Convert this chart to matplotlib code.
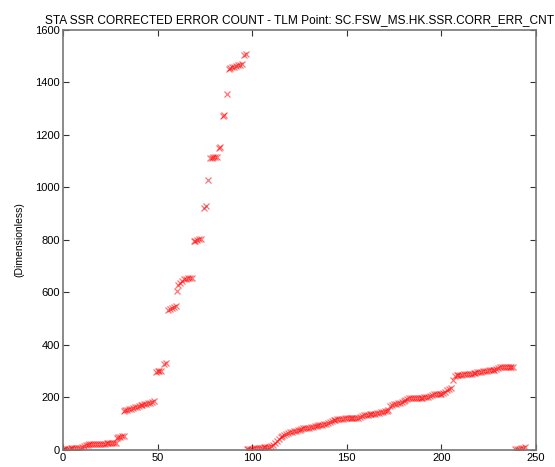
import matplotlib
matplotlib.use('Agg')
import matplotlib.pyplot as plt

plt.rcParams['font.family'] = ['Liberation Sans', 'DejaVu Sans']

# first ramp (x values in days, counts)
x_ramp1 = [0, 0.5, 1, 2, 3, 4, 5, 6, 7, 8, 9, 10, 11, 12, 13, 14, 15, 16, 17, 18,
           19, 20, 21, 22, 23, 24, 25, 26, 27, 28, 28.5, 29, 30, 31, 32,
           32.5, 33, 34, 35, 36, 37, 38, 39, 40, 41, 42, 43, 44, 45, 46, 47, 48,
           49, 50, 51, 52, 53.5, 54.5,
           55.5, 56.5, 57.5, 58.5, 59.5, 60.2, 61, 62, 63, 64, 65, 66, 67, 68,
           69, 70, 71, 72, 73, 74.5, 75.5, 76.5, 77.5, 78.5, 79.5, 80.5, 81.5,
           82.5, 83.2, 84.5, 85.3, 86.7, 87.5, 88.5, 89.5, 90.5, 91.5, 92.5,
           93.5, 94.5, 95.5, 96.5]
y_ramp1 = [3, 4, 4, 5, 5, 6, 6, 7, 7, 8, 8, 10, 14, 18, 20, 21, 21, 22, 22, 23,
           23, 24, 24, 24, 25, 25, 25, 25, 26, 26, 45, 48, 50, 52, 53,
           150, 152, 153, 155, 156, 160, 163, 165, 168, 170, 172, 174, 176, 178, 180, 183, 185,
           298, 300, 300, 302, 328, 330,
           535, 537, 540, 545, 548, 606, 630, 636, 645, 650, 652, 654, 655, 655,
           795, 798, 800, 802, 805, 922, 928, 1030, 1112, 1114, 1116, 1118, 1118,
           1150, 1155, 1272, 1278, 1355, 1452, 1455, 1458, 1460, 1462, 1465,
           1467, 1470, 1505, 1508]

# second ramp
x_ramp2 = list(range(97, 239))
y_ramp2 = [2, 3, 4, 5, 6, 7, 8, 8, 9, 10, 10, 11, 12, 14, 20, 28, 35, 42, 50, 55,
           58, 62, 65, 67, 70, 72, 74, 76, 78, 80, 82, 83, 84, 85, 86, 88, 90, 92,
           94, 95, 96, 98, 100, 104, 108, 110, 113, 116, 118, 118, 119, 119, 120,
           120, 120, 121, 121, 122, 122, 123, 124, 128, 132, 134, 135, 136, 137,
           138, 139, 140, 142, 144, 146, 148, 150, 152, 168, 172, 175, 177, 178,
           180, 182, 186, 190, 195, 197, 198, 198, 198, 198, 199, 199, 199, 200,
           200, 200, 206, 210, 212, 213, 213, 214, 215, 218, 222, 228, 232, 238,
           265, 280, 284, 285, 286, 287, 288, 289, 290, 290, 291, 292, 293, 296,
           298, 299, 300, 301, 302, 303, 304, 305, 306, 310, 314, 316, 317, 317,
           317, 317, 317, 317, 317]

# restart after counter reset
x_ramp3 = [239, 240, 241, 242, 243, 244]
y_ramp3 = [2, 3, 5, 7, 8, 10]

fig = plt.figure(figsize=(5.55, 4.67), dpi=100)
ax = fig.add_axes([0.1135, 0.0364, 0.8523, 0.8994])

for xs, ys in [(x_ramp1, y_ramp1), (x_ramp2, y_ramp2), (x_ramp3, y_ramp3)]:
    ax.plot(xs, ys, linestyle='none', marker='x', color='red',
            markersize=4.3, markeredgewidth=0.9, alpha=0.55)

ax.set_xlim(0, 250)
ax.set_ylim(0, 1600)
ax.set_xticks(range(0, 251, 50))
ax.set_yticks(range(0, 1601, 200))
ax.tick_params(direction='in', top=True, right=True, labelsize=8,
               length=4, width=0.8, color='#333333', pad=2)
for s in ax.spines.values():
    s.set_color('#777777')
    s.set_linewidth(1.2)

ax.set_ylabel('(Dimensionless)', fontsize=7.5, labelpad=8)
ax.set_title('STA SSR CORRECTED ERROR COUNT - TLM Point: SC.FSW_MS.HK.SSR.CORR_ERR_CNT',
             fontsize=8.6, pad=5)

fig.savefig('out.png', dpi=100)
